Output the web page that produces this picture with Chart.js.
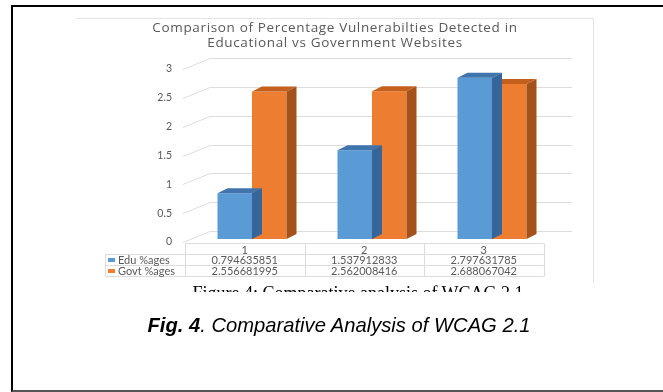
<!DOCTYPE html>
<html>
<head>
<meta charset="utf-8">
<script src="https://cdn.jsdelivr.net/npm/chart.js@4.4.1/dist/chart.umd.min.js"></script>
<style>
  html,body{margin:0;padding:0;background:#fff;width:663px;height:392px;overflow:hidden;}
  #c{position:absolute;left:0;top:0;}
  #box{position:absolute;left:11px;top:5px;width:720px;height:383px;border-left:2px solid #000;border-top:2px solid #000;border-bottom:2px solid #555;}
  #cut{position:absolute;left:0;top:281px;width:663px;height:11px;overflow:hidden;}
  #cut span{position:absolute;left:358px;top:4px;transform:translateX(-50%);white-space:nowrap;font:18px/17px "Liberation Serif",serif;color:#000;}
  #cap{position:absolute;left:339px;top:315px;transform:translateX(-50%);white-space:nowrap;font:italic 20.2px/20px "Liberation Sans",Arial,sans-serif;color:#000;}
</style>
</head>
<body>
<div id="box"></div>
<canvas id="c" width="663" height="392"></canvas>
<div id="cut"><span>Figure 4: Comparative analysis of WCAG 2.1</span></div>
<div id="cap"><b>Fig. 4</b>. Comparative Analysis of WCAG 2.1</div>
<script>
const categories = ['1', '2', '3'];
const eduValues = [0.794635851, 1.537912833, 2.797631785];
const govtValues = [2.556681995, 2.562008416, 2.688067042];
const seriesNames = ['Edu %ages', 'Govt %ages'];
const titleLines = ['Comparison of Percentage Vulnerabilties Detected in', 'Educational vs Government Websites'];
const yMin = 0, yMax = 3, yStep = 0.5;

const frontColors = ['#5B9BD5', '#ED7D31'];
const topColors = ['#3F74AC', '#C4601C'];
const sideColors = ['#35659A', '#A5521A'];
const DX = 10, DY = -5;
const GRID = '#dcdcdc', TXT = '#595959';

const threeD = {
  id: 'threeD',
  beforeDatasetsDraw(chart) {
    const ctx = chart.ctx, ys = chart.scales.y, a = chart.chartArea;
    ctx.save();
    ctx.strokeStyle = '#e3e3e3'; ctx.lineWidth = 1;
    ctx.beginPath(); ctx.moveTo(77, 18.5); ctx.lineTo(593.5, 18.5); ctx.lineTo(593.5, 283); ctx.stroke();
    ctx.fillStyle = TXT; ctx.font = '13.5px "Open Sans"'; ctx.letterSpacing = '0.65px';
    ctx.textAlign = 'center'; ctx.textBaseline = 'middle';
    titleLines.forEach((t, i) => ctx.fillText(t, 335, 28 + i * 15));
    ctx.letterSpacing = '0px';
    ctx.strokeStyle = GRID;
    for (let v = yMin; v <= yMax + 1e-9; v += yStep) {
      const yf = Math.round(ys.getPixelForValue(v)) + 0.5;
      ctx.beginPath();
      ctx.moveTo(a.left - 9, yf + 3);
      ctx.lineTo(a.left + 18, yf - 8);
      ctx.lineTo(a.right + 20, yf - 8);
      ctx.stroke();
    }
    ctx.restore();
  },
  afterDatasetDraw(chart, args) {
    const ctx = chart.ctx, i = args.index;
    ctx.save();
    args.meta.data.forEach(bar => {
      const p = bar.getProps(['x', 'y', 'base', 'width'], true);
      const l = p.x - p.width / 2, r = p.x + p.width / 2;
      ctx.fillStyle = topColors[i];
      ctx.beginPath();
      ctx.moveTo(l, p.y); ctx.lineTo(r, p.y); ctx.lineTo(r + DX, p.y + DY); ctx.lineTo(l + DX, p.y + DY); ctx.closePath(); ctx.fill();
      ctx.fillStyle = sideColors[i];
      ctx.beginPath();
      ctx.moveTo(r, p.y); ctx.lineTo(r + DX, p.y + DY); ctx.lineTo(r + DX, p.base + DY); ctx.lineTo(r, p.base); ctx.closePath(); ctx.fill();
    });
    ctx.restore();
  },
  afterDraw(chart) {
    const ctx = chart.ctx, a = chart.chartArea;
    const colW = (a.right - a.left) / categories.length - 0.5;
    const tx0 = a.left - 7, tx1 = tx0 + colW * categories.length;
    const legL = 105;
    const rows = [243.5, 254.5, 265.5, 276.5];
    ctx.save();
    ctx.strokeStyle = GRID; ctx.lineWidth = 1;
    ctx.beginPath();
    ctx.moveTo(tx0, rows[0]); ctx.lineTo(tx1, rows[0]);
    for (let r = 1; r < rows.length; r++) { ctx.moveTo(legL, rows[r]); ctx.lineTo(tx1, rows[r]); }
    for (let c = 0; c <= categories.length; c++) {
      const x = Math.round(tx0 + c * colW) + 0.5;
      ctx.moveTo(x, rows[0]); ctx.lineTo(x, rows[3]);
    }
    ctx.moveTo(legL + 0.5, rows[1]); ctx.lineTo(legL + 0.5, rows[3]);
    ctx.stroke();
    ctx.fillStyle = TXT; ctx.font = '11px Lato'; ctx.textBaseline = 'middle'; ctx.textAlign = 'center';
    const series = [eduValues, govtValues];
    categories.forEach((c, k) => {
      const cx = tx0 + colW * (k + 0.5);
      ctx.fillText(c, cx, (rows[0] + rows[1]) / 2 + 1);
      series.forEach((s, j) => ctx.fillText(String(s[k]), cx, (rows[j + 1] + rows[j + 2]) / 2 + 0.5));
    });
    ctx.textAlign = 'left';
    seriesNames.forEach((n, j) => {
      const cy = (rows[j + 1] + rows[j + 2]) / 2;
      ctx.fillStyle = frontColors[j];
      ctx.fillRect(108, cy - 2, 7, 4);
      ctx.fillStyle = TXT;
      ctx.fillText(n, 118, cy + 0.5);
    });
    ctx.restore();
  }
};

new Chart(document.getElementById('c'), {
  type: 'bar',
  data: {
    labels: categories,
    datasets: [
      { label: seriesNames[0], data: eduValues, backgroundColor: frontColors[0], borderWidth: 0 },
      { label: seriesNames[1], data: govtValues, backgroundColor: frontColors[1], borderWidth: 0 }
    ]
  },
  options: {
    responsive: false,
    animation: false,
    devicePixelRatio: 1,
    layout: { padding: { left: 140, right: 111, top: 66, bottom: 153 } },
    datasets: { bar: { categoryPercentage: 0.575, barPercentage: 1 } },
    plugins: { legend: { display: false }, tooltip: { enabled: false }, title: { display: false } },
    scales: {
      x: { display: false, offset: true },
      y: {
        min: yMin, max: yMax,
        grid: { display: false, drawTicks: false },
        border: { display: false },
        ticks: { stepSize: yStep, padding: 20, color: TXT, font: { family: 'Lato', size: 10.5 }, labelOffset: 3,
                 callback: v => String(v) },
        afterFit(s) { s.width = 52; }
      }
    }
  },
  plugins: [threeD]
});
</script>
</body>
</html>
